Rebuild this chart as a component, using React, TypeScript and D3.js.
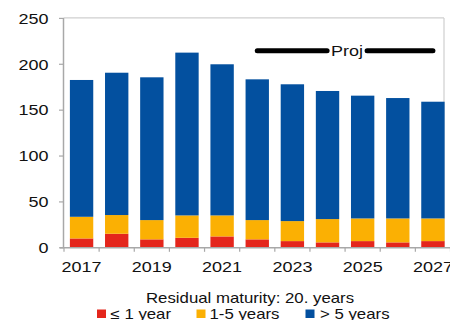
import React from "react";
import * as d3 from "d3";

const years = ["2017","2018","2019","2020","2021","2022","2023","2024","2025","2026","2027"];
const upTo1 = [10.2, 15.3, 9.2, 10.9, 12.4, 9.2, 7.3, 5.9, 7.3, 5.9, 7.3];
const oneTo5 = [23.6, 20.4, 21.0, 24.4, 22.9, 21.0, 21.8, 25.4, 24.7, 26.1, 24.7];
const over5 = [149.1, 155.1, 155.6, 177.4, 164.7, 153.4, 149.1, 139.6, 133.8, 131.2, 127.2];
const yTicks = [0, 50, 100, 150, 200, 250];
const xLabels = ["2017","2019","2021","2023","2025","2027"];
const projRange = ["2022", "2027"];
const seriesNames = ["\u2264 1 year", "1-5 years", "> 5 years"];
const legendTitle = "Residual maturity: 20. years";
const projLabel = "Proj";

const colors = ["#e4261c", "#fbb003", "#03509f"];
const FONT = "'Liberation Sans', Arial, sans-serif";
const SX = 1.2;

export default function App() {
  const W = 450, H = 320;
  const left = 64, right = 450.5, top = 18.4, bottom = 247.8;
  const x = d3.scaleBand<string>().domain(years).range([left, right]).paddingInner(0.335).paddingOuter(0.1675);
  const y = d3.scaleLinear().domain([0, 250]).range([bottom, top]);
  const step = x.step();
  const bw = x.bandwidth();
  const halfGap = (step - bw) / 2;

  const rows = years.map((yr, i) => ({ yr, vals: [upTo1[i], oneTo5[i], over5[i]] }));
  const stack = d3.stack<any>().keys([0, 1, 2] as any).value((d: any, k: any) => d.vals[k]);
  const stacked = stack(rows as any);

  const boundaries = years.map((yr) => (x(yr) as number) - halfGap).concat([(x(years[years.length - 1]) as number) + bw + halfGap]);

  const p0 = (x(projRange[0]) as number) + bw / 2;
  const p1 = (x(projRange[1]) as number) + bw / 2;
  const pm = (p0 + p1) / 2 + 2;
  const gap = 20;
  const projY = 50.7;

  const st = (tx: number, ty: number, txt: string, anchor: string, size: number, key?: any) => (
    <g key={key} transform={`translate(${tx},${ty})`}>
      <text transform={`scale(${SX},1)`} textAnchor={anchor as any} fontSize={size} fontFamily={FONT} fill="#111">{txt}</text>
    </g>
  );

  const legendItems = [
    { sx: 97, tx: 110.5 },
    { sx: 196.5, tx: 209.5 },
    { sx: 305.5, tx: 320 },
  ];

  return (
    <svg width={W} height={H} style={{ position: "absolute", left: 0, top: 0, background: "#fff" }}>
      <rect x={0} y={0} width={W} height={H} fill="#fff" />
      {/* frame */}
      <line x1={left} x2={444} y1={top - 0.5} y2={top - 0.5} stroke="#cfcfcf" strokeWidth={1.2} />
      <line x1={444} x2={444} y1={top - 0.5} y2={bottom} stroke="#cfcfcf" strokeWidth={1.2} />
      {/* bars */}
      {stacked.map((layer: any, li: number) =>
        layer.map((d: any, i: number) => (
          <rect key={`${li}-${i}`} x={x(years[i])} width={bw} y={y(d[1])} height={y(d[0]) - y(d[1])} fill={colors[li]} />
        ))
      )}
      {/* axes */}
      <line x1={left - 0.5} x2={left - 0.5} y1={top - 0.5} y2={bottom} stroke="#a8a8a8" strokeWidth={1.5} />
      <line x1={left - 4} x2={right} y1={bottom} y2={bottom} stroke="#a8a8a8" strokeWidth={1.5} />
      {yTicks.map((t) => (
        <line key={t} x1={left - 5} x2={left} y1={y(t)} y2={y(t)} stroke="#a8a8a8" strokeWidth={1.2} />
      ))}
      {boundaries.map((b, i) => (
        <line key={i} x1={b} x2={b} y1={bottom} y2={bottom + 4} stroke="#a8a8a8" strokeWidth={1.2} />
      ))}
      {yTicks.map((t) => st(48.5, y(t) + 5.3, String(t), "end", 15, `y${t}`))}
      {xLabels.map((l) => st((x(l) as number) + bw / 2, 271.5, l, "middle", 15, `x${l}`))}
      {/* projection marker */}
      <line x1={p0} x2={pm - gap} y1={projY} y2={projY} stroke="#000" strokeWidth={5} strokeLinecap="round" />
      <line x1={pm + gap} x2={p1} y1={projY} y2={projY} stroke="#000" strokeWidth={5} strokeLinecap="round" />
      {st(pm, projY + 5.5, projLabel, "middle", 15, "proj")}
      {/* legend */}
      {st(250, 303, legendTitle, "middle", 14, "lt")}
      {legendItems.map((it, i) => (
        <g key={`l${i}`}>
          <rect x={it.sx} y={309.5} width={9} height={8.5} fill={colors[i]} />
          {st(it.tx, 318.5, seriesNames[i], "start", 14)}
        </g>
      ))}
    </svg>
  );
}
